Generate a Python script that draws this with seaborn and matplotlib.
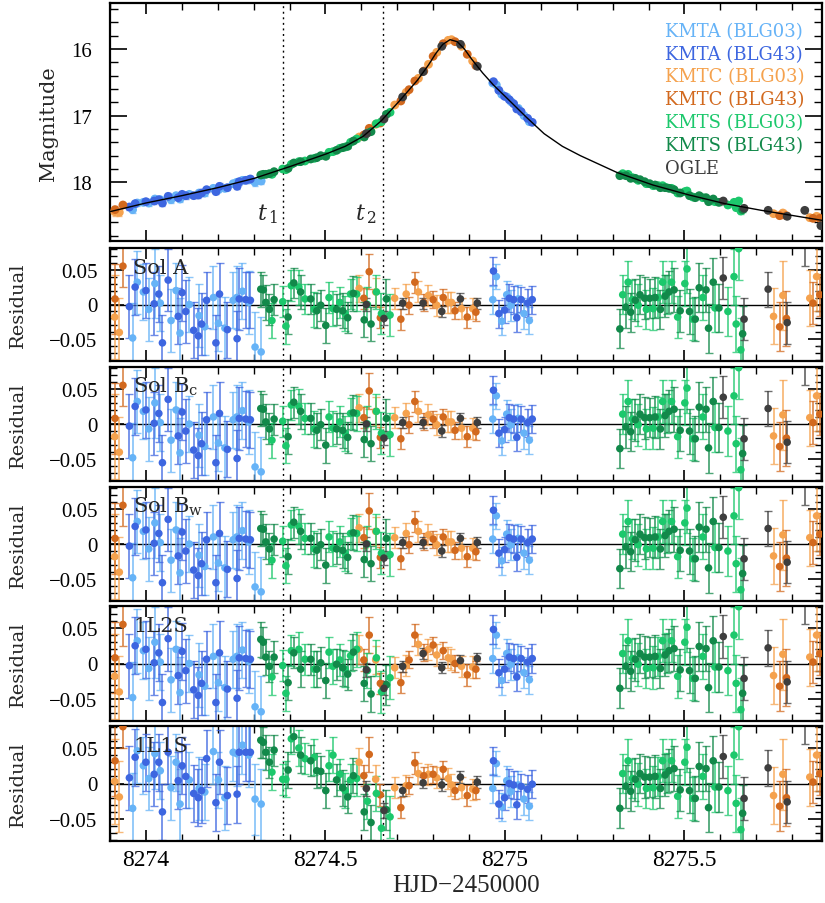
import matplotlib
matplotlib.use('Agg')
import matplotlib.pyplot as plt
import seaborn as sns
from matplotlib.ticker import MultipleLocator

sns.set_style('ticks')
plt.rcParams['font.family'] = ['Liberation Serif', 'DejaVu Serif']
plt.rcParams['mathtext.fontset'] = 'dejavuserif'

# ---------------- data (HJD-2450000) ----------------
model_t = [8273.900, 8274.000, 8274.100, 8274.200, 8274.302, 8274.403, 8274.504, 8274.555,
           8274.605, 8274.655, 8274.706, 8274.756, 8274.787, 8274.807, 8274.827, 8274.847,
           8274.867, 8274.887, 8274.907, 8274.938, 8274.968, 8275.008, 8275.059, 8275.109,
           8275.160, 8275.210, 8275.311, 8275.412, 8275.513, 8275.613, 8275.714, 8275.815, 8275.883]
model_mag = [18.44, 18.31, 18.20, 18.08, 17.94, 17.76, 17.57, 17.46,
             17.31, 17.08, 16.78, 16.47, 16.24, 16.07, 15.93, 15.86,
             15.89, 16.00, 16.15, 16.36, 16.54, 16.75, 17.02, 17.27,
             17.46, 17.60, 17.85, 18.04, 18.19, 18.32, 18.42, 18.51, 18.57]

# KMTA (BLG03)
kmta03_t = [8273.963, 8273.976, 8273.993, 8274.008, 8274.025, 8274.040, 8274.070, 8274.084, 8274.095,
            8274.121, 8274.148, 8274.164, 8274.188, 8274.202, 8274.220, 8274.243, 8274.253, 8274.269,
            8274.287, 8274.304, 8274.321,
            8274.966, 8274.976, 8274.991, 8275.005, 8275.017, 8275.037, 8275.053, 8275.068]
kmta03_mag = [18.41, 18.31, 18.30, 18.31, 18.25, 18.26, 18.26, 18.20, 18.25, 18.18, 18.16, 18.16,
              18.09, 18.11, 18.09, 18.02, 18.00, 17.97, 17.96, 18.00, 17.98,
              16.51, 16.54, 16.68, 16.72, 16.79, 16.89, 17.00, 17.09]
kmta03_err = [0.050, 0.045, 0.040, 0.045, 0.050, 0.040, 0.045, 0.040, 0.050, 0.040, 0.045, 0.040,
              0.045, 0.040, 0.045, 0.040, 0.045, 0.040, 0.045, 0.050, 0.050,
              0.020, 0.018, 0.020, 0.020, 0.022, 0.020, 0.022, 0.020]
kmta03_rA = [-0.048, 0.032, 0.018, -0.007, 0.030, 0.002, -0.023, 0.020, -0.041, 0.000, -0.016, -0.032,
             0.010, -0.027, -0.034, 0.006, 0.010, 0.019, 0.003, -0.061, -0.068,
             0.007, 0.040, -0.024, 0.014, -0.001, 0.008, -0.013, -0.023]
kmta03_r1L1S = [-0.035, 0.046, 0.025, 0.007, 0.042, 0.018, -0.006, 0.030, -0.029, 0.005, -0.007, -0.012,
                0.045, 0.005, -0.020, 0.044, 0.042, 0.054, 0.040, -0.022, -0.029,
                -0.007, 0.028, -0.033, 0.004, -0.011, -0.002, -0.022, -0.032]

# KMTA (BLG43)
kmta43_t = [8273.954, 8273.970, 8274.000, 8274.023, 8274.036, 8274.046, 8274.062, 8274.090, 8274.101,
            8274.111, 8274.133, 8274.146, 8274.155, 8274.169, 8274.195, 8274.205, 8274.227, 8274.254,
            8274.260, 8274.278, 8274.291,
            8274.968, 8274.983, 8274.999, 8275.012, 8275.024, 8275.033, 8275.045, 8275.063, 8275.076]
kmta43_mag = [18.37, 18.32, 18.29, 18.28, 18.26, 18.31, 18.21, 18.23, 18.18, 18.20, 18.20, 18.19,
              18.16, 18.11, 18.14, 18.06, 18.08, 18.06, 17.99, 17.97, 17.95,
              16.49, 16.62, 16.71, 16.76, 16.82, 16.90, 16.94, 17.04, 17.10]
kmta43_err = [0.045, 0.040, 0.040, 0.045, 0.040, 0.040, 0.045, 0.040, 0.040, 0.045, 0.040, 0.040,
              0.045, 0.040, 0.040, 0.045, 0.040, 0.040, 0.045, 0.040, 0.040,
              0.020, 0.020, 0.018, 0.020, 0.020, 0.020, 0.018, 0.020, 0.020]
kmta43_rA = [-0.003, 0.025, 0.020, 0.001, 0.015, -0.055, 0.035, -0.017, 0.017, -0.010, -0.037, -0.045,
             -0.028, 0.006, -0.055, 0.015, -0.036, -0.049, 0.008, 0.007, 0.006,
             0.048, -0.013, -0.008, 0.009, 0.007, -0.019, 0.007, 0.002, 0.007]
kmta43_r1L1S = [0.008, 0.037, 0.030, 0.013, 0.030, -0.040, 0.044, 0.004, 0.025, 0.010, -0.014, -0.020,
                -0.010, 0.035, -0.027, 0.030, -0.017, -0.015, 0.044, 0.044, 0.044,
                0.032, -0.029, -0.020, 0.000, -0.002, -0.030, -0.004, -0.008, -0.001]

# KMTC (BLG03)
kmtc03_t = [8273.913, 8273.926, 8274.594, 8274.640, 8274.693, 8274.725, 8274.759, 8274.787, 8274.810,
            8274.842, 8274.851, 8274.879, 8274.910, 8275.748, 8275.774, 8275.849, 8275.868]
kmtc03_mag = [18.44, 18.45, 17.32, 17.13, 16.84, 16.65, 16.44, 16.23, 16.05, 15.87, 15.86, 15.96,
              16.18, 18.47, 18.46, 18.53, 18.51]
kmtc03_err = [0.060, 0.050, 0.020, 0.020, 0.015, 0.015, 0.015, 0.015, 0.015, 0.015, 0.015, 0.015,
              0.015, 0.040, 0.050, 0.040, 0.050]
kmtc03_rA = [-0.018, -0.040, 0.023, 0.018, 0.009, 0.015, 0.018, 0.013, -0.001, 0.003, 0.003, -0.006,
             -0.006, -0.017, 0.013, 0.009, 0.040]
kmtc03_r1L2S = [-0.018, -0.040, 0.020, 0.005, -0.006, -0.003, 0.027, 0.020, 0.012, 0.008, 0.006, -0.004,
                -0.005, -0.017, 0.013, 0.009, 0.040]
kmtc03_r1L1S = [0.003, -0.019, 0.030, 0.006, -0.006, -0.003, 0.014, 0.013, 0.008, 0.007, -0.002, -0.006,
                -0.008, -0.017, 0.013, 0.009, 0.040]

# KMTC (BLG43)
kmtc43_t = [8273.914, 8273.936, 8274.607, 8274.622, 8274.653, 8274.710, 8274.733, 8274.749, 8274.774,
            8274.800, 8274.828, 8274.861, 8274.895, 8274.919, 8275.765, 8275.784, 8275.858, 8275.877]
kmtc43_mag = [18.41, 18.34, 17.29, 17.19, 17.11, 16.78, 16.61, 16.48, 16.33, 16.11, 15.92, 15.89,
              16.08, 16.25, 18.50, 18.50, 18.54, 18.54]
kmtc43_err = [0.050, 0.030, 0.015, 0.025, 0.015, 0.015, 0.012, 0.015, 0.012, 0.012, 0.012, 0.012,
              0.015, 0.012, 0.035, 0.040, 0.030, 0.030]
kmtc43_rA = [0.008, 0.055, 0.009, 0.047, -0.019, -0.021, -0.001, 0.032, 0.003, 0.007, 0.010, -0.009,
             -0.018, -0.011, -0.032, -0.020, 0.002, 0.014]
kmtc43_r1L2S = [0.008, 0.055, 0.005, 0.040, -0.028, -0.027, 0.005, 0.040, 0.015, 0.026, 0.018, 0.000,
                -0.016, -0.008, -0.032, -0.020, 0.002, 0.014]
kmtc43_r1L1S = [0.032, 0.080, 0.011, 0.041, -0.016, -0.034, -0.003, 0.029, 0.011, 0.013, 0.020, -0.010,
                -0.017, -0.010, -0.032, -0.020, 0.002, 0.014]

# KMTS (BLG03)
kmts03_t = [8274.351, 8274.381, 8274.390, 8274.405, 8274.426, 8274.443, 8274.469, 8274.510, 8274.521,
            8274.540, 8274.555, 8274.570, 8274.587, 8274.617, 8274.642, 8274.656, 8274.680,
            8275.328, 8275.343, 8275.355, 8275.371, 8275.394, 8275.413, 8275.427, 8275.439, 8275.450,
            8275.464, 8275.481, 8275.501, 8275.507, 8275.523, 8275.551, 8275.585, 8275.621, 8275.638,
            8275.644, 8275.651, 8275.657]
kmts03_mag = [17.88, 17.80, 17.81, 17.73, 17.69, 17.68, 17.64, 17.55, 17.54, 17.49, 17.47, 17.40,
              17.35, 17.26, 17.12, 17.09, 16.95,
              17.87, 17.88, 17.93, 17.97, 18.02, 18.05, 18.05, 18.05, 18.08, 18.09, 18.16, 18.14,
              18.13, 18.22, 18.23, 18.29, 18.34, 18.30, 18.38, 18.28, 18.43]
kmts03_err = [0.025, 0.022, 0.025, 0.022, 0.025, 0.022, 0.025, 0.022, 0.025, 0.022, 0.025, 0.022,
              0.025, 0.025, 0.025, 0.030, 0.030,
              0.028, 0.030, 0.028, 0.030, 0.028, 0.030, 0.028, 0.030, 0.028, 0.030, 0.030, 0.032,
              0.035, 0.030, 0.032, 0.035, 0.035, 0.040, 0.040, 0.045, 0.045]
kmts03_rA = [-0.023, 0.004, -0.031, 0.027, 0.025, 0.008, -0.007, 0.010, -0.006, 0.003, -0.013, 0.015,
             0.015, 0.000, 0.018, -0.013, -0.015,
             0.014, 0.032, 0.007, -0.001, -0.007, -0.006, 0.010, 0.032, 0.015, 0.032, -0.018, 0.030,
             0.051, -0.021, 0.010, -0.005, -0.010, 0.040, -0.028, 0.080, -0.065]
kmts03_r1L2S = [-0.019, -0.003, -0.042, 0.018, 0.020, 0.006, -0.008, 0.016, -0.004, 0.005, -0.008, 0.011,
                0.020, -0.010, 0.008, -0.040, -0.020] + kmts03_rA[17:]
kmts03_r1L1S = [0.016, 0.006, 0.006, 0.063, 0.050, 0.035, 0.037, 0.025, 0.040, 0.013, -0.010, 0.005,
                0.007, -0.025, -0.014, -0.063, -0.047] + kmts03_rA[17:]

# KMTS (BLG43)
kmts43_t = [8274.320, 8274.327, 8274.334, 8274.344, 8274.357, 8274.396, 8274.412, 8274.431, 8274.459,
            8274.476, 8274.487, 8274.501, 8274.531, 8274.548, 8274.562, 8274.578, 8274.608, 8274.627,
            8274.670,
            8275.320, 8275.337, 8275.350, 8275.363, 8275.376, 8275.389, 8275.403, 8275.418, 8275.433,
            8275.446, 8275.457, 8275.471, 8275.488, 8275.514, 8275.530, 8275.541, 8275.560, 8275.567,
            8275.580, 8275.596, 8275.662]
kmts43_mag = [17.89, 17.88, 17.88, 17.87, 17.84, 17.79, 17.71, 17.69, 17.65, 17.63, 17.60, 17.61,
              17.52, 17.48, 17.46, 17.38, 17.32, 17.24, 16.98,
              17.90, 17.90, 17.94, 17.94, 17.96, 17.99, 18.02, 18.04, 18.08, 18.08, 18.09, 18.11,
              18.16, 18.20, 18.23, 18.20, 18.23, 18.29, 18.25, 18.30, 18.41]
kmts43_err = [0.025, 0.022, 0.025, 0.022, 0.022, 0.025, 0.022, 0.025, 0.022, 0.025, 0.022, 0.025,
              0.022, 0.025, 0.022, 0.025, 0.025, 0.025, 0.028,
              0.028, 0.030, 0.028, 0.030, 0.028, 0.030, 0.028, 0.030, 0.028, 0.030, 0.030, 0.032,
              0.030, 0.032, 0.032, 0.035, 0.032, 0.035, 0.035, 0.035, 0.040]
kmts43_rA = [0.022, 0.021, 0.003, -0.007, 0.007, -0.018, 0.031, 0.018, 0.008, -0.009, -0.001, -0.030,
             -0.007, -0.009, -0.019, 0.016, -0.022, -0.028, 0.008,
             -0.035, -0.004, -0.011, 0.006, 0.014, 0.009, 0.009, 0.010, -0.007, 0.012, 0.018, 0.021,
             -0.009, -0.010, -0.021, 0.024, 0.021, -0.034, 0.032, -0.005, -0.042]
kmts43_r1L2S = [0.034, 0.030, 0.009, -0.004, 0.009, -0.027, 0.015, -0.008, 0.006, -0.008, 0.001, -0.024,
                -0.001, -0.006, -0.015, 0.016, -0.028, -0.043, -0.030] + kmts43_rA[19:]
kmts43_r1L1S = [0.061, 0.058, 0.044, 0.030, 0.047, 0.019, 0.066, 0.040, 0.032, 0.018, 0.017, -0.010,
                0.005, -0.006, -0.019, 0.011, -0.040, -0.055, -0.037] + kmts43_rA[19:]

# OGLE
ogle_t = [8274.614, 8274.663, 8274.715, 8274.772, 8274.824, 8274.876, 8274.923,
          8275.608, 8275.666, 8275.733, 8275.786, 8275.835, 8275.880]
ogle_mag = [17.27, 17.05, 16.72, 16.34, 15.96, 15.93, 16.26, 18.28, 18.39, 18.42, 18.51, 18.42, 18.65]
ogle_err = [0.010, 0.010, 0.008, 0.008, 0.008, 0.008, 0.008, 0.030, 0.030, 0.025, 0.030, 0.035, 0.030]
ogle_rA = [0.000, -0.020, 0.002, 0.002, -0.010, 0.008, 0.002, 0.038, -0.021, 0.022, -0.026, 0.090, -0.090]
ogle_r1L2S = [-0.009, -0.035, -0.004, 0.014, -0.006, 0.004, 0.007, 0.038, -0.021, 0.022, -0.026, 0.090, -0.090]
ogle_r1L1S = [-0.007, -0.038, -0.010, 0.001, -0.002, 0.009, 0.002, 0.038, -0.021, 0.022, -0.026, 0.090, -0.090]

t1, t2 = 8274.382, 8274.660
panel_names = ['Sol A', r'Sol B$_\mathrm{c}$', r'Sol B$_\mathrm{w}$', '1L2S', '1L1S']
xtick_vals = [8274, 8274.5, 8275, 8275.5]
xtick_labels = ['8274', '8274.5', '8275', '8275.5']

datasets = [
    ('KMTA (BLG03)', '#66B3F7', kmta03_t, kmta03_mag, kmta03_err,
     [kmta03_rA, kmta03_rA, kmta03_rA, kmta03_rA, kmta03_r1L1S]),
    ('KMTA (BLG43)', '#3D66E0', kmta43_t, kmta43_mag, kmta43_err,
     [kmta43_rA, kmta43_rA, kmta43_rA, kmta43_rA, kmta43_r1L1S]),
    ('KMTC (BLG03)', '#F5A24E', kmtc03_t, kmtc03_mag, kmtc03_err,
     [kmtc03_rA, kmtc03_rA, kmtc03_rA, kmtc03_r1L2S, kmtc03_r1L1S]),
    ('KMTC (BLG43)', '#D2691E', kmtc43_t, kmtc43_mag, kmtc43_err,
     [kmtc43_rA, kmtc43_rA, kmtc43_rA, kmtc43_r1L2S, kmtc43_r1L1S]),
    ('KMTS (BLG03)', '#1CC86C', kmts03_t, kmts03_mag, kmts03_err,
     [kmts03_rA, kmts03_rA, kmts03_rA, kmts03_r1L2S, kmts03_r1L1S]),
    ('KMTS (BLG43)', '#12894A', kmts43_t, kmts43_mag, kmts43_err,
     [kmts43_rA, kmts43_rA, kmts43_rA, kmts43_r1L2S, kmts43_r1L1S]),
    ('OGLE', '#3E3E3E', ogle_t, ogle_mag, ogle_err,
     [ogle_rA, ogle_rA, ogle_rA, ogle_r1L2S, ogle_r1L1S]),
]

# ---------------- layout ----------------
W, H = 825, 904
fig = plt.figure(figsize=(W / 100, H / 100), dpi=100)
X0, X1 = 110, 822
XLIM = (8273.90, 8275.883)


def rect(top, bot):
    return [X0 / W, 1 - bot / H, (X1 - X0) / W, (bot - top) / H]


def style(ax, ymaj_len):
    ax.set_xlim(XLIM)
    ax.set_xticks(xtick_vals, labels=xtick_labels)
    ax.xaxis.set_minor_locator(MultipleLocator(0.1))
    ax.tick_params(which='both', direction='in', top=True, right=True,
                   labelbottom=False, colors='black')
    ax.tick_params(axis='x', which='major', length=8, width=1.2, pad=6, labelsize=17)
    ax.tick_params(axis='x', which='minor', length=5, width=1.0)
    ax.tick_params(axis='y', which='major', length=ymaj_len, width=1.2, labelsize=15)
    ax.tick_params(axis='y', which='minor', length=ymaj_len * 0.5, width=1.0)
    for s in ax.spines.values():
        s.set_linewidth(1.6)
        s.set_color('black')
    ax.set_xlabel('')
    ax.set_ylabel('')
    ax.axvline(t1, color='black', lw=1.0, ls=(0, (1.4, 2.6)), zorder=1)
    ax.axvline(t2, color='black', lw=1.0, ls=(0, (1.4, 2.6)), zorder=1)


# top panel
axt = fig.add_axes(rect(4, 242))
for name, col, t, m, e, _ in datasets:
    axt.errorbar(t, m, yerr=e, fmt='none', ecolor=col, elinewidth=1.2, capsize=2.5, alpha=0.7, zorder=2)
    sns.scatterplot(x=t, y=m, color=col, s=40, edgecolor='none', ax=axt, zorder=3, legend=False)
sns.lineplot(x=model_t, y=model_mag, color='black', lw=1.0, ax=axt, estimator=None, sort=True, zorder=4)
style(axt, 12)
axt.set_ylim(18.88, 15.31)
axt.set_yticks([16, 17, 18], labels=['16', '17', '18'])
axt.yaxis.set_minor_locator(MultipleLocator(0.2))
axt.tick_params(axis='y', pad=13)
axt.text(8274.368, 18.47, r'$t_{\,1}$', ha='right', va='center', fontsize=16)
axt.text(8274.643, 18.47, r'$t_{\,2}$', ha='right', va='center', fontsize=16)

leg_y = [32, 55, 77, 100, 123, 146, 169]
for (name, col, *_), yy in zip(datasets, leg_y):
    fig.text(665 / W, 1 - yy / H, name, color=col, ha='left', va='center',
             fontsize=13, family='DejaVu Serif')

fig.text(48.5 / W, 1 - 124 / H, 'Magnitude', rotation=90, ha='center', va='center',
         fontsize=15, family='DejaVu Serif')

# residual panels
panels = [(249, 362), (368, 482), (488, 602), (607, 722), (727, 842)]
for k, (top, bot) in enumerate(panels):
    ax = fig.add_axes(rect(top, bot))
    ax.axhline(0, color='black', lw=1.0, zorder=1.5)
    for name, col, t, m, e, res in datasets:
        r = res[k]
        ax.errorbar(t, r, yerr=e, fmt='none', ecolor=col, elinewidth=1.3, capsize=3, alpha=0.75, zorder=2)
        sns.scatterplot(x=t, y=r, color=col, s=30, edgecolor='none', ax=ax, zorder=3, legend=False)
    style(ax, 10)
    ax.set_ylim(-0.081, 0.081)
    ax.set_yticks([-0.05, 0, 0.05], labels=['\u22120.05', '0', '0.05'])
    ax.yaxis.set_minor_locator(MultipleLocator(0.01))
    ax.tick_params(axis='y', pad=9)
    fig.text(133 / W, 1 - (top + 25) / H, panel_names[k], ha='left', va='baseline',
             fontsize=15, family='DejaVu Serif')
    fig.text(18 / W, 1 - (top + bot) / 2 / H, 'Residual', rotation=90, ha='center', va='center',
             fontsize=14, family='DejaVu Serif')
    if k == len(panels) - 1:
        ax.tick_params(labelbottom=True)

fig.text(466 / W, 1 - 886 / H, 'HJD\u22122450000', ha='center', va='center', fontsize=18)

fig.savefig('out.png', dpi=100)
